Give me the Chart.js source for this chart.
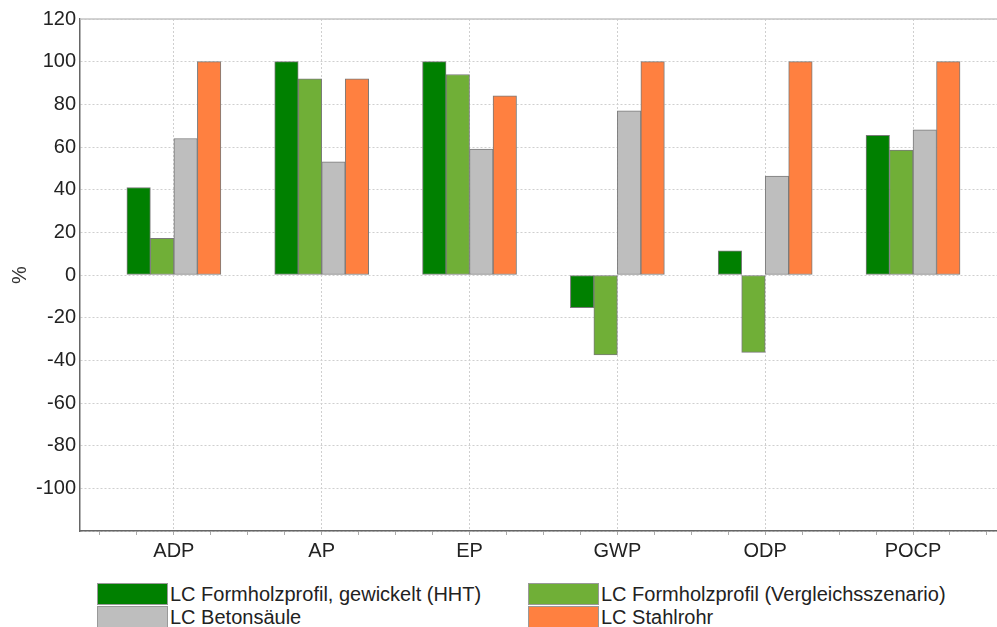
<!DOCTYPE html>
<html>
<head>
<meta charset="utf-8">
<script src="https://cdn.jsdelivr.net/npm/chart.js@4"></script>
<style>
	html, body { margin: 0; padding: 0; background: #fff; overflow: hidden; }
	body { width: 997px; height: 627px; position: relative; font-family: "Liberation Sans", Arial, sans-serif; }
	#wrap { position: absolute; left: 0; top: 0; width: 997px; height: 560px; }
	.legend { position: absolute; left: 0; top: 583px; width: 997px; }
	.leg-item { position: absolute; height: 22px; display: flex; align-items: center; font-size: 20px; color: #222; white-space: nowrap; }
	.leg-box { width: 71px; height: 22px; border: 1px solid #999; margin-right: 2px; box-sizing: border-box; }
</style>
</head>
<body>
<div id="wrap"><canvas id="myChart"></canvas></div>
<div class="legend" id="legend"></div>
<script>
// 카테고리 / 값
const categories = ['ADP', 'AP', 'EP', 'GWP', 'ODP', 'POCP'];
const seriesNames = [
	'LC Formholzprofil, gewickelt (HHT)',
	'LC Formholzprofil (Vergleichsszenario)',
	'LC Betonsäule',
	'LC Stahlrohr'
];
const hhtValues = [41, 100, 100, -15.3, 11.3, 65.5];
const vergleichValues = [17.2, 92, 94, -37.5, -36.3, 58.6];
const betonValues = [64, 53, 59, 77, 46.4, 68];
const stahlValues = [100, 92, 84, 100, 100, 100];
const yTicks = [-120, -100, -80, -60, -40, -20, 0, 20, 40, 60, 80, 100, 120];

const colors = ['#008000', '#70AF37', '#BEBEBE', '#FF8040'];
const allValues = [hhtValues, vergleichValues, betonValues, stahlValues];

const FONT = '"Liberation Sans", Arial, sans-serif';

window.onload = () => {
	buildLegend();
	renderChart('myChart');
};

function toPoints(values) {
	return values.map((v, i) => ({ x: i, y: v }));
}

// 위쪽 테두리 선
const topBorder = {
	id: 'topBorder',
	afterDatasetsDraw(chart) {
		const { ctx, chartArea } = chart;
		ctx.save();
		ctx.strokeStyle = '#c4c4c4';
		ctx.lineWidth = 1.5;
		ctx.beginPath();
		ctx.moveTo(chartArea.left, chartArea.top);
		ctx.lineTo(chartArea.right, chartArea.top);
		ctx.stroke();
		ctx.restore();
	}
};

function isMain(c) {
	return c && c.tick && Number.isInteger(c.tick.value);
}

function renderChart(chartId) {
	const ctx = document.getElementById(chartId);
	if (!ctx) return;

	new Chart(ctx, {
		type: 'bar',
		data: {
			datasets: allValues.map((vals, i) => ({
				label: seriesNames[i],
				data: toPoints(vals),
				backgroundColor: colors[i],
				borderColor: '#7a7a7a',
				borderWidth: 1,
				borderSkipped: false,
				barThickness: 23.5
			}))
		},
		options: {
			responsive: true,
			maintainAspectRatio: false,
			animation: false,
			layout: { padding: { top: 19, right: 0, left: 0, bottom: 0 } },
			plugins: {
				legend: { display: false },
				tooltip: { enabled: false }
			},
			scales: {
				x: {
					type: 'linear',
					offset: false,
					min: -0.635,
					max: 5.568,
					afterBuildTicks: (scale) => {
						const t = [];
						for (let k = -2; k <= 22; k++) t.push({ value: k / 4 });
						scale.ticks = t;
					},
					afterFit: (scale) => { scale.height = 29; },
					grid: {
						offset: false,
						color: (c) => isMain(c) ? '#cfcfcf' : 'rgba(0,0,0,0)',
						lineWidth: 1,
						drawTicks: true,
						tickLength: 4,
						tickColor: '#aaaaaa',
						tickBorderDash: []
					},
					border: { display: true, color: '#666', width: 1.5, dash: [2, 2] },
					ticks: {
						autoSkip: false,
						maxRotation: 0,
						padding: 4,
						color: '#222',
						font: { family: FONT, size: 20 },
						callback: (v) => Number.isInteger(v) && categories[v] ? categories[v] : ''
					}
				},
				y: {
					min: -120,
					max: 120,
					afterBuildTicks: (scale) => {
						scale.ticks = yTicks.map(v => ({ value: v }));
					},
					afterFit: (scale) => { scale.width = 80; },
					grid: {
						color: '#cfcfcf',
						lineWidth: 1,
						drawTicks: false
					},
					border: { display: true, color: '#666', width: 1.5, dash: [2, 2] },
					ticks: {
						padding: 4,
						color: '#222',
						font: { family: FONT, size: 20 },
						callback: (v) => v === -120 ? '' : v
					},
					title: {
						display: true,
						text: '%',
						color: '#333',
						padding: { top: 8, bottom: 0 },
						font: { family: FONT, size: 20 }
					}
				}
			}
		},
		plugins: [topBorder]
	});
}

function buildLegend() {
	const legend = document.getElementById('legend');
	const pos = [
		{ left: 97, top: 0 },
		{ left: 528, top: 0 },
		{ left: 97, top: 23 },
		{ left: 528, top: 23 }
	];
	seriesNames.forEach((name, i) => {
		const item = document.createElement('div');
		item.className = 'leg-item';
		item.style.left = pos[i].left + 'px';
		item.style.top = pos[i].top + 'px';
		item.innerHTML = `<span class="leg-box" style="background:${colors[i]}"></span><span>${name}</span>`;
		legend.appendChild(item);
	});
}
</script>
</body>
</html>
